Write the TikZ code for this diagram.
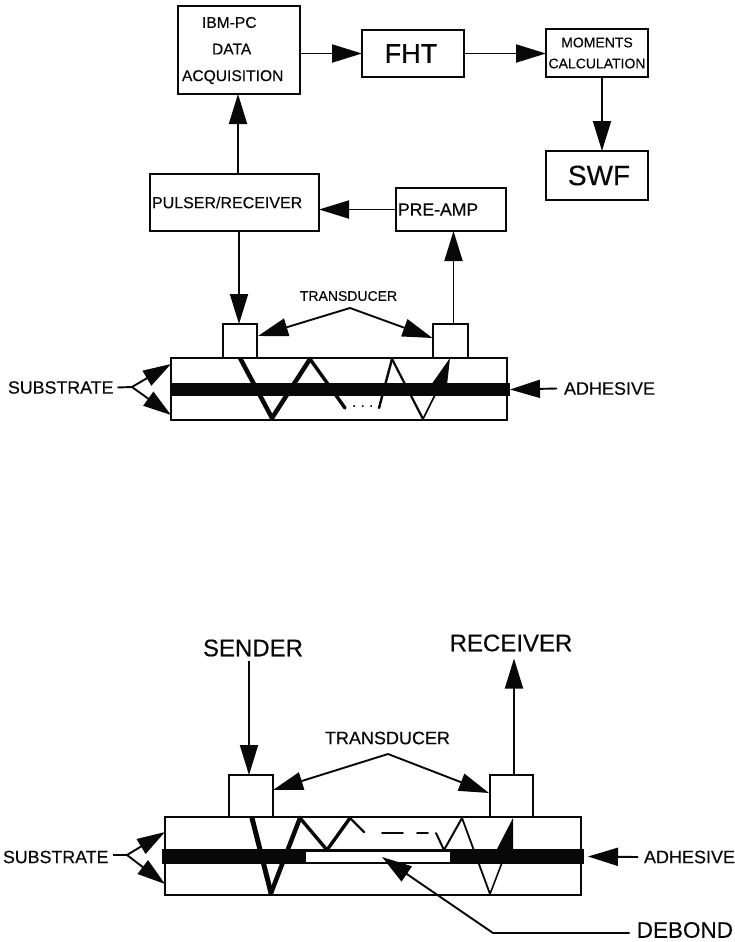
\documentclass[tikz,border=0pt]{standalone}
\usepackage{fontspec}
\setmainfont[FakeBold=0.35]{Liberation Sans}
\usetikzlibrary{arrows.meta,calc}
\newcommand{\fsz}[1]{\fontsize{#1}{#1}\selectfont}
\definecolor{ink}{gray}{0.03}
\tikzset{
  x=1pt,y=-1pt,
  box/.style={draw=ink,line width=1.9pt,fill=white,inner sep=0pt,outer sep=0pt,text=ink},
  layer/.style={draw=ink,line width=1.7pt,inner sep=0pt,outer sep=0pt},
  band/.style={fill=ink,inner sep=0pt,outer sep=0pt},
  gap/.style={fill=white,inner sep=0pt,outer sep=0pt},
  txt/.style={inner sep=0pt,outer sep=0pt,text=ink},
  conn/.style={draw=ink,line width=1.9pt},
  arr/.style={conn,-{Triangle[length=30pt,width=18pt,color=ink]}},
  arrs/.style={conn,-{Triangle[length=28pt,width=17pt,color=ink]}},
  wave/.style={draw=ink,line join=miter,line cap=round},
  wedge/.style={fill=ink},
}
\begin{document}
\begin{tikzpicture}
\useasboundingbox[fill=white] (0,0) rectangle (735,942);

% ---------- upper diagram ----------
\node[box,minimum width=122pt,minimum height=88pt] (ibm) at (239,50) {};
\node[txt,align=left,anchor=west,font=\fsz{15.6}] (ibmt) at (182,50.5)
  {\hspace*{20pt}IBM-PC\\[11pt]\hspace*{30pt}DATA\\[11pt]ACQUISITION};
\node[box,minimum width=102pt,minimum height=47pt,font=\fsz{27}] (fht) at (413,53.5) {\hspace*{-4pt}FHT};
\node[box,minimum width=102pt,minimum height=48pt,align=center,font=\fsz{14}] (mom) at (597,53) {MOMENTS\\[7pt]CALCULATION};
\node[box,minimum width=102pt,minimum height=49pt,font=\fsz{28}] (swf) at (597,175.5) {\hspace*{4pt}SWF};
\node[box,minimum height=57pt,text width=165pt,inner xsep=2pt,align=left,font=\fsz{16}] (pulser) at (234.5,202.5) {PULSER/RECEIVER};
\node[box,minimum height=43pt,text width=106pt,inner xsep=2pt,align=left,font=\fsz{17.6}] (amp) at (451,209.5) {PRE-AMP};

\node[layer,minimum width=336pt,minimum height=62pt] (subA) at (339,389) {};
\draw[wave,line width=4.5pt] (240,358) -- (272,418);
\draw[wave,line width=4.5pt] (272,418) -- (310,359);
\draw[wave,line width=3.4pt] (310,359) -- (345,408);
\draw[wave,line width=2.4pt] (379,408) -- (392,359);
\draw[wave,line width=2.2pt] (392,359) -- (423,419);
\draw[wave,line width=1.6pt] (423,419) -- (441,383);
\fill[wedge] (431,385) -- (450,358) -- (447,385) -- cycle;
\node[txt,font=\fsz{14}] (dotsA) at (367,406) {.\,\,.\,\,.\,\,.};
\node[band,minimum width=340pt,minimum height=13pt] (bandA) at (340,389.5) {};

\node[box,minimum width=34pt,minimum height=34pt] (tl) at (240,341) {};
\node[box,minimum width=35pt,minimum height=34pt] (tr) at (450.5,341) {};

\draw[arr] (ibm.east |- fht.west) -- (fht.west);
\draw[arr] (fht.east) -- (mom.west |- fht.east);
\draw[arr] ($(mom.south)+(5,0)$) -- ($(swf.north)+(5,0)$);
\draw[arr] ($(pulser.north west)+(88,0)$) -- ($(ibm.south west)+(60,0)$);
\draw[arr] (amp.west) -- (pulser.east |- amp.west);
\draw[arr] ($(pulser.south west)+(89,0)$) -- ($(tl.north)+(-1,0)$);
\draw[arr] ($(tr.north)+(3,0)$) -- ($(amp.south west)+(57.5,0)$);

\node[txt,font=\fsz{14}] (transA) at (348.5,296) {TRANSDUCER};
\coordinate (apexA) at (350,308);
\draw[arr] (apexA) -- ($(tl.north east)+(1,12)$);
\draw[arr] (apexA) -- ($(tr.north west)+(-0.5,14)$);

\node[txt,font=\fsz{17.8},anchor=west] (subtA) at (8,387.5) {SUBSTRATE};
\coordinate (forkA) at (132,387);
\draw[conn] ($(subtA.east)+(4,0)$) -- (forkA);
\draw[arrs] (forkA) -- ($(subA.north west)+(0,6)$);
\draw[arrs] (forkA) -- ($(subA.south west)+(0,-5)$);

\node[txt,font=\fsz{18},anchor=west] (adhA) at (564,388.5) {ADHESIVE};
\draw[arr] ($(adhA.west)+(-7,0)$) -- (bandA.east);

% ---------- lower diagram ----------
\node[txt,font=\fsz{24}] (sender) at (253,648) {SENDER};
\node[txt,font=\fsz{24}] (recv) at (511,643) {RECEIVER};

\node[layer,minimum width=416pt,minimum height=78pt] (subB) at (373,856) {};
\draw[wave,line width=5pt] (252,818) -- (271,893);
\draw[wave,line width=4.5pt] (271,893) -- (300,818);
\draw[wave,line width=3.4pt] (300,818) -- (327,850);
\draw[wave,line width=3.4pt] (327,850) -- (350,818);
\draw[wave,line width=2.4pt] (350,818) -- (364,832);
\draw[wave,line width=1.8pt] (382,833) -- (403,833);
\draw[wave,line width=1.8pt] (417,833) -- (428,833);
\draw[wave,line width=2pt] (436,833) -- (444,850);
\draw[wave,line width=2pt] (444,850) -- (462,818);
\draw[wave,line width=1.8pt] (462,818) -- (490,894);
\draw[wave,line width=1.6pt] (490,894) -- (503,860);
\fill[wedge] (497,849) -- (513,818) -- (513,849) -- cycle;
\node[band,minimum width=422pt,minimum height=15pt] (bandB) at (373,856.5) {};
\node[gap,minimum width=144pt,minimum height=10pt] (debond) at (378,857) {};

\node[box,minimum width=44pt,minimum height=42pt] (bl) at (251,796) {};
\node[box,minimum width=43pt,minimum height=42pt] (br) at (511.5,796) {};

\draw[arr] ($(sender.south)+(-4,4)$) -- ($(bl.north)+(-2,0)$);
\draw[arr] ($(br.north)+(2.5,0)$) -- ($(recv.south)+(3,7)$);

\node[txt,font=\fsz{18}] (transB) at (387.5,738) {TRANSDUCER};
\coordinate (apexB) at (388,754);
\draw[arr] (apexB) -- ($(bl.north east)+(0,15)$);
\draw[arr] (apexB) -- ($(br.north west)+(-1,18)$);

\node[txt,font=\fsz{17.8},anchor=west] (subtB) at (3,857) {SUBSTRATE};
\coordinate (forkB) at (127,855);
\draw[conn] ($(subtB.east)+(5,-2)$) -- (forkB);
\draw[arrs] (forkB) -- ($(subB.north west)+(0,15)$);
\draw[arrs] (forkB) -- ($(subB.south west)+(0,-11)$);

\node[txt,font=\fsz{18},anchor=west] (adhB) at (644,857) {ADHESIVE};
\draw[arr] ($(adhB.west)+(-6,0)$) -- ($(bandB.east)+(4,0)$);

\node[txt,font=\fsz{22.5},anchor=east] (debt) at (733,930) {DEBOND};
\coordinate (bendB) at (493,933);
\draw[arr] ($(debt.west)+(-7,3)$) -- (bendB) -- ($(debond.south)+(4,-5)$);
\end{tikzpicture}
\end{document}
